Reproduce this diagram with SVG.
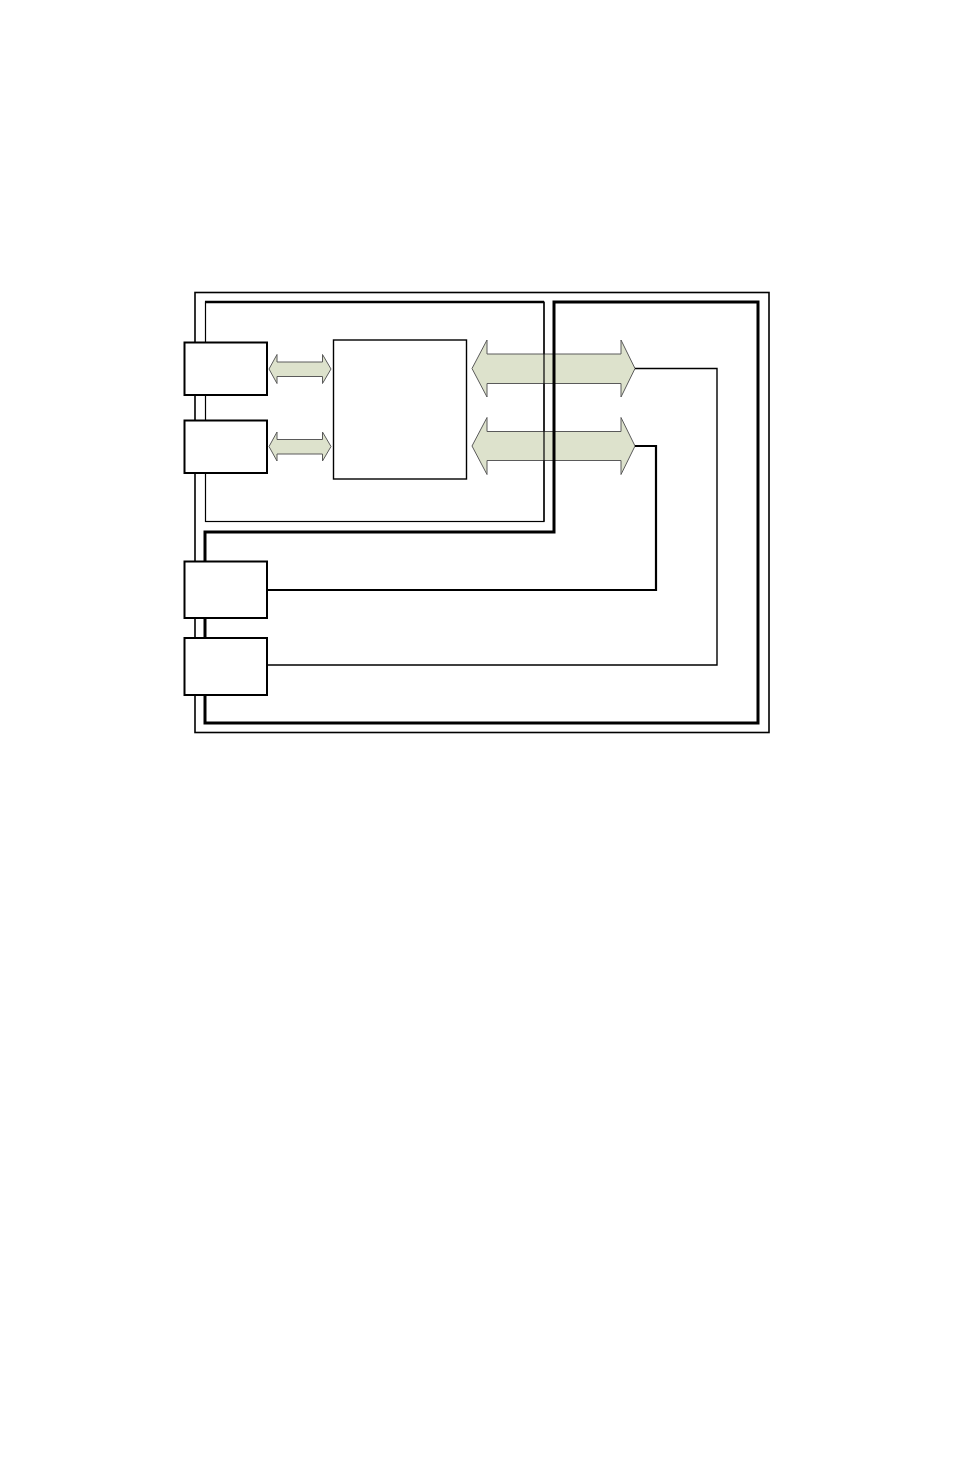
<svg xmlns="http://www.w3.org/2000/svg" width="954" height="1475" viewBox="0 0 954 1475">
<style>
.frame{fill:none;stroke:#000;stroke-width:1.6}
.thin{fill:none;stroke:#000;stroke-width:1.2}
.thick{fill:none;stroke:#000;stroke-width:3}
.box{fill:#fff;stroke:#000;stroke-width:2}
.core{fill:#fff;stroke:#000;stroke-width:1.4}
.arrow{fill:#dde2cc;stroke:#5a5a5a;stroke-width:1}
.wire1{fill:none;stroke:#000;stroke-width:2.2}
.wire2{fill:none;stroke:#000;stroke-width:1.4}
</style>
<rect width="954" height="1475" fill="#fff"/>
<g id="enclosure">
<rect class="frame" x="195" y="292.5" width="574" height="440"/>
</g>
<g id="board">
<rect class="thin" x="205.5" y="302" width="338.5" height="219.5"/>
<line x1="205" y1="302" x2="544" y2="302" stroke="#000" stroke-width="2.5"/>
</g>
<g id="arrows">
<polygon class="arrow" points="472,368.5 487,340 487,354 621,354 621,340 635,368.5 621,397 621,383.5 487,383.5 487,397"/>
<polygon class="arrow" points="472,446 487,417.5 487,431.5 621,431.5 621,417.5 635,446 621,474.5 621,460.5 487,460.5 487,474.5"/>
<polygon class="arrow" points="269,369 277,354.5 277,362 322.5,362 322.5,354.5 331,369 322.5,383.5 322.5,376.5 277,376.5 277,383.5"/>
<polygon class="arrow" points="269,446.5 277,432 277,439.5 322.5,439.5 322.5,432 331,446.5 322.5,461 322.5,454 277,454 277,461"/>
</g>
<g id="connectors">
<path class="thin" d="M544,302 V521.5"/>
<path class="thick" d="M205,532 H554 V302 H758 V723 H205 Z"/>
<path class="wire1" d="M635,446 H656 V590 H267"/>
<path class="wire2" d="M635,368.5 H717 V665 H267"/>
</g>
<g id="core">
<rect class="core" x="333.5" y="340" width="133" height="139"/>
</g>
<g id="box1"><rect class="box" x="184.5" y="342.5" width="82.5" height="52.5"/></g>
<g id="box2"><rect class="box" x="184.5" y="420.5" width="82.5" height="52.5"/></g>
<g id="box3"><rect class="box" x="184.5" y="561.5" width="82.5" height="56.5"/></g>
<g id="box4"><rect class="box" x="184.5" y="638" width="82.5" height="57"/></g>
</svg>
